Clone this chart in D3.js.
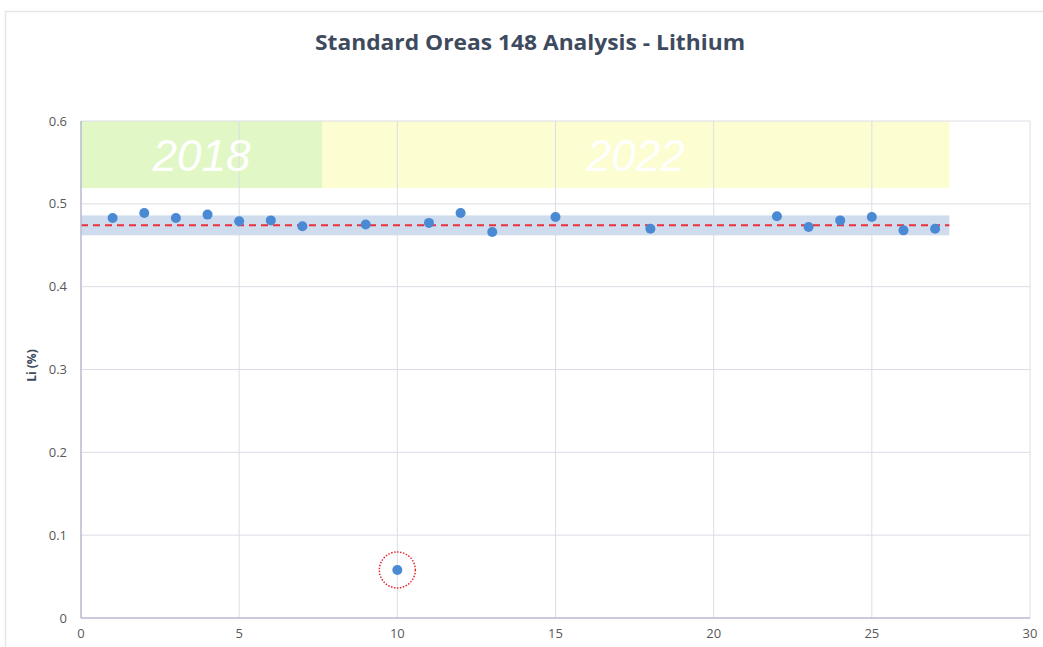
<!doctype html>
<html lang="en">
<head>
<meta charset="utf-8">
<script src="https://d3js.org/d3.v7.min.js"></script>
<title>Standard Oreas 148 Analysis - Lithium</title>
<style>
  body { margin: 0; background: #fff; }
  svg { display: block; font-family: "Open Sans", "Noto Sans", sans-serif; }
</style>
</head>
<body>
<svg id="svg1" width="1043" height="647"></svg>
<script>
// sample number vs Li (%)
let sampleNo = [1, 2, 3, 4, 5, 6, 7, 9, 10, 11, 12, 13, 15, 18, 22, 23, 24, 25, 26, 27];
let liValue  = [0.483, 0.489, 0.483, 0.487, 0.479, 0.480, 0.473, 0.475, 0.058, 0.477, 0.489, 0.466,
                0.484, 0.470, 0.485, 0.472, 0.480, 0.484, 0.468, 0.470];

// certified value and tolerance band
let certValue = 0.474;
let bandLow = 0.462, bandHigh = 0.486;
let bandEnd = 27.45;

// year blocks
let yearLabels = ["2018", "2022"];
let yearStart  = [0, 7.62];
let yearEnd    = [7.62, 27.45];
let yearLow = 0.519, yearHigh = 0.6;

let outlier = 10; // circled sample

let xTicks = [0, 5, 10, 15, 20, 25, 30];
let yTicks = [0, 0.1, 0.2, 0.3, 0.4, 0.5, 0.6];

let margin = { top: 121, right: 13, bottom: 29, left: 81 };
let width = 1043 - margin.left - margin.right;
let height = 647 - margin.top - margin.bottom;

let svg = d3.select("#svg1");

// outer chart frame
svg.append("path")
    .attr("d", "M5.5,700 V11.5 H1043")
    .attr("fill", "none")
    .attr("stroke", "#e6e6e6")
    .attr("stroke-width", 1.5);

svg.append("text")
    .attr("x", 530).attr("y", 50)
    .attr("text-anchor", "middle")
    .attr("font-size", 21)
    .attr("font-weight", "bold")
    .attr("fill", "#3e4a5e")
    .attr("textLength", 430)
    .attr("lengthAdjust", "spacingAndGlyphs")
    .text("Standard Oreas 148 Analysis - Lithium");

let g = svg.append("g").attr("transform", `translate(${margin.left},${margin.top})`);

let xScale = d3.scaleLinear().domain([0, 30]).range([0, width]);
let yScale = d3.scaleLinear().domain([0, 0.6]).range([height, 0]);

// year blocks
g.selectAll("rect.year")
    .data(yearLabels)
    .join("rect")
    .attr("class", "year")
    .attr("x", (d, i) => xScale(yearStart[i]))
    .attr("width", (d, i) => xScale(yearEnd[i]) - xScale(yearStart[i]))
    .attr("y", yScale(yearHigh))
    .attr("height", yScale(yearLow) - yScale(yearHigh))
    .attr("fill", (d, i) => i == 0 ? "#e2f7c6" : "#fdfdd2");

// grid
g.selectAll("line.gx")
    .data(xTicks.slice(1))
    .join("line")
    .attr("class", "gx")
    .attr("x1", d => xScale(d)).attr("x2", d => xScale(d))
    .attr("y1", 0).attr("y2", height)
    .attr("stroke", "#dcdde6").attr("stroke-width", 1);

g.selectAll("line.gy")
    .data(yTicks.slice(1))
    .join("line")
    .attr("class", "gy")
    .attr("x1", 0).attr("x2", width)
    .attr("y1", d => yScale(d)).attr("y2", d => yScale(d))
    .attr("stroke", "#dcdde6").attr("stroke-width", 1);

g.selectAll("text.yr")
    .data(yearLabels)
    .join("text")
    .attr("class", "yr")
    .attr("x", (d, i) => (xScale(yearStart[i]) + xScale(yearEnd[i])) / 2)
    .attr("y", yScale(yearHigh) + 50)
    .attr("text-anchor", "middle")
    .attr("font-family", "Liberation Sans, Arial, sans-serif")
    .attr("font-style", "italic")
    .attr("font-size", 44)
    .attr("fill", "#ffffff")
    .text(d => d);

// tolerance band
g.append("rect")
    .attr("x", xScale(0))
    .attr("width", xScale(bandEnd) - xScale(0))
    .attr("y", yScale(bandHigh))
    .attr("height", yScale(bandLow) - yScale(bandHigh))
    .attr("fill", "#cfdcee");

g.append("line")
    .attr("x1", xScale(0)).attr("x2", xScale(bandEnd))
    .attr("y1", yScale(certValue)).attr("y2", yScale(certValue))
    .attr("stroke", "#e8303a")
    .attr("stroke-width", 2)
    .attr("stroke-dasharray", "7,5");

// axes lines
g.append("line")
    .attr("x1", 0).attr("x2", 0).attr("y1", 0).attr("y2", height)
    .attr("stroke", "#b7b8d0").attr("stroke-width", 1.5);
g.append("line")
    .attr("x1", 0).attr("x2", width).attr("y1", height).attr("y2", height)
    .attr("stroke", "#b7b8d0").attr("stroke-width", 1.5);

// tick labels
g.selectAll("text.xt")
    .data(xTicks)
    .join("text")
    .attr("class", "xt")
    .attr("x", d => xScale(d))
    .attr("y", height + 20)
    .attr("text-anchor", "middle")
    .attr("font-size", 13)
    .attr("fill", "#595959")
    .text(d => d);

g.selectAll("text.yt")
    .data(yTicks)
    .join("text")
    .attr("class", "yt")
    .attr("x", -14)
    .attr("y", d => yScale(d) + 4.5)
    .attr("text-anchor", "end")
    .attr("font-size", 13)
    .attr("fill", "#595959")
    .text(d => d);

g.append("text")
    .attr("transform", `translate(-45,${height / 2 - 4}) rotate(-90)`)
    .attr("text-anchor", "middle")
    .attr("font-size", 12)
    .attr("font-weight", "bold")
    .attr("fill", "#3e4a5e")
    .text("Li (%)");

// points
g.selectAll("circle.pt")
    .data(sampleNo)
    .join("circle")
    .attr("class", "pt")
    .attr("cx", d => xScale(d))
    .attr("cy", (d, i) => yScale(liValue[i]))
    .attr("r", 5)
    .attr("fill", "#4a8ad4");

// circle around outlier
let oi = sampleNo.indexOf(outlier);
g.append("circle")
    .attr("cx", xScale(outlier))
    .attr("cy", yScale(liValue[oi]))
    .attr("r", 18)
    .attr("fill", "none")
    .attr("stroke", "#e02a30")
    .attr("stroke-width", 1.5)
    .attr("stroke-dasharray", "1.5,1.5");
</script>
</body>
</html>
